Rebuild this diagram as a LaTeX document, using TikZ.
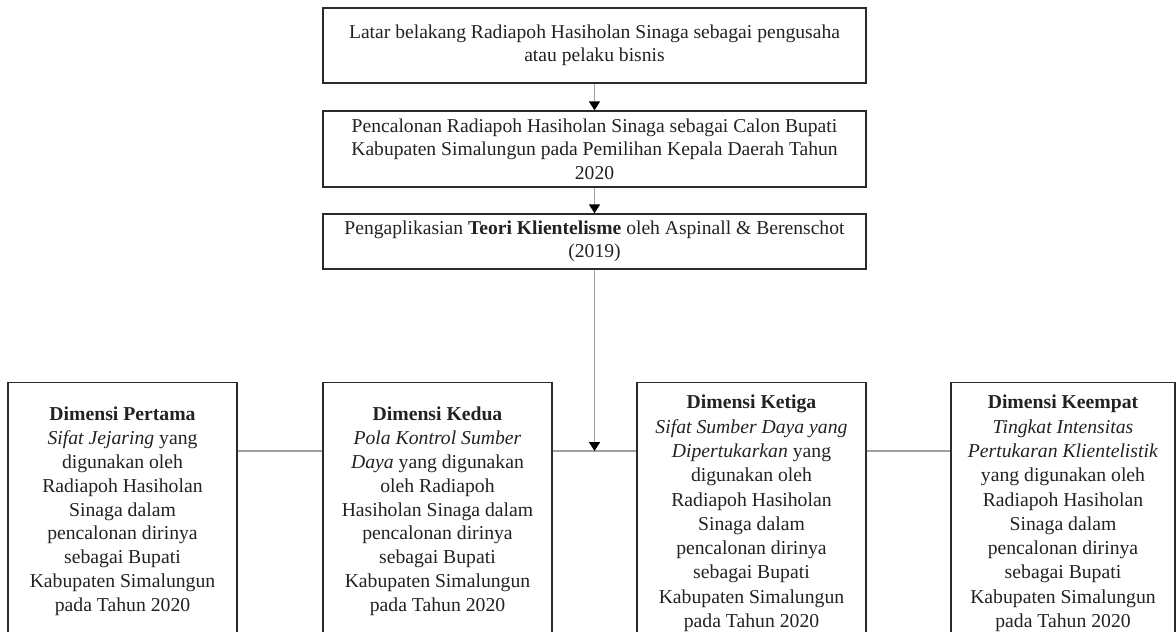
\documentclass[tikz,border=0pt]{standalone}
\usepackage{fontspec}
\setmainfont{Liberation Serif}
\usetikzlibrary{arrows.meta}
\definecolor{boxcol}{HTML}{2B2B2B}
\definecolor{txtcol}{HTML}{222222}
\definecolor{linecol}{HTML}{A0A0A0}
\begin{document}
\begin{tikzpicture}[x=1pt,y=-1pt,
  topbox/.style={draw=boxcol, line width=1.4pt, minimum width=543pt, inner sep=0pt,
    align=center, font=\fontsize{19.6}{23.5}\selectfont, text=txtcol},
  dimbox/.style={draw=boxcol, line width=1.4pt, minimum height=320pt, anchor=north, inner sep=0pt},
  dimtext/.style={anchor=north, align=center, inner sep=0pt, text=txtcol,
    font=\fontsize{19.7}{23.8}\selectfont},
  dimtextb/.style={dimtext, font=\fontsize{19.7}{24.3}\selectfont},
  conn/.style={draw=linecol, line width=1.8pt},
  arr/.style={conn, -{Triangle[width=11pt,length=9pt,color=black]}}
]
\useasboundingbox (0,0) rectangle (1176,632);

% top boxes
\node[topbox, minimum height=75pt] (b1) at (594.5,45.5)
  {Latar belakang Radiapoh Hasiholan Sinaga sebagai pengusaha\\atau pelaku bisnis};
\node[topbox, minimum height=76pt] (b2) at (594.5,149)
  {Pencalonan Radiapoh Hasiholan Sinaga sebagai Calon Bupati\\Kabupaten Simalungun pada Pemilihan Kepala Daerah Tahun\\2020};
\node[topbox, minimum height=55pt] (b3) at (594.5,241.5)
  {Pengaplikasian \textbf{Teori Klientelisme} oleh Aspinall \& Berenschot\\(2019)};

% bottom boxes
\node[dimbox, minimum width=229pt] (d1) at (122.5,382) {};
\node[dimbox, minimum width=229pt] (d2) at (437.5,382) {};
\node[dimbox, minimum width=229pt] (d3) at (751.5,382) {};
\node[dimbox, minimum width=224pt] (d4) at (1063,382) {};

\node[dimtext] (t1) at (122.5,407)
  {\textbf{Dimensi Pertama}\\\textit{Sifat Jejaring} yang\\digunakan oleh\\Radiapoh Hasiholan\\Sinaga dalam\\pencalonan dirinya\\sebagai Bupati\\Kabupaten Simalungun\\pada Tahun 2020};
\node[dimtext] (t2) at (437.5,407)
  {\textbf{Dimensi Kedua}\\\textit{Pola Kontrol Sumber}\\\textit{Daya} yang digunakan\\oleh Radiapoh\\Hasiholan Sinaga dalam\\pencalonan dirinya\\sebagai Bupati\\Kabupaten Simalungun\\pada Tahun 2020};
\node[dimtextb] (t3) at (751.5,395)
  {\textbf{Dimensi Ketiga}\\\textit{Sifat Sumber Daya yang}\\\textit{Dipertukarkan} yang\\digunakan oleh\\Radiapoh Hasiholan\\Sinaga dalam\\pencalonan dirinya\\sebagai Bupati\\Kabupaten Simalungun\\pada Tahun 2020};
\node[dimtextb] (t4) at (1063,395)
  {\textbf{Dimensi Keempat}\\\textit{Tingkat Intensitas}\\\textit{Pertukaran Klientelistik}\\yang digunakan oleh\\Radiapoh Hasiholan\\Sinaga dalam\\pencalonan dirinya\\sebagai Bupati\\Kabupaten Simalungun\\pada Tahun 2020};

% connectors
\coordinate (jn) at (594.5,451);
\draw[conn] (d1.east |- jn) -- (d2.west |- jn);
\draw[conn] (d2.east |- jn) -- (d3.west |- jn);
\draw[conn] (d3.east |- jn) -- (d4.west |- jn);
\draw[arr] (b1) -- (b2);
\draw[arr] (b2) -- (b3);
\draw[arr] (b3) -- (jn);
\end{tikzpicture}
\end{document}
